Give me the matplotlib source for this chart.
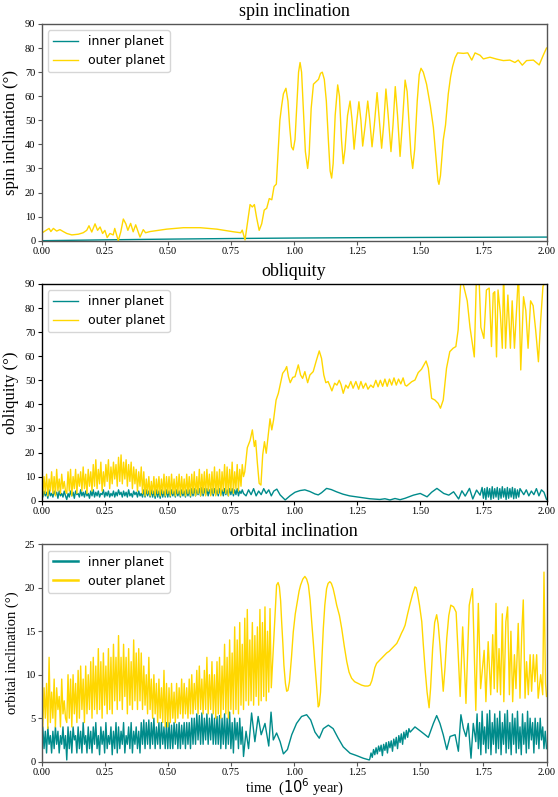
import matplotlib
matplotlib.use('Agg')
import matplotlib.pyplot as plt
import numpy as np

# ---------------- spin inclination ----------------
spin_inner_t = [0.0, 0.25, 0.5, 0.75, 1.0, 1.25, 1.5, 1.75, 2.0]
spin_inner_v = [0.0, 0.35, 0.65, 0.9, 1.1, 1.25, 1.35, 1.42, 1.5]

spin_outer_t = [0.000, 0.020, 0.030, 0.037, 0.047, 0.060, 0.073, 0.086, 0.100, 0.120,
                0.146, 0.165, 0.179, 0.188, 0.199, 0.212, 0.222, 0.232, 0.242, 0.251,
                0.260, 0.271, 0.284, 0.290, 0.304, 0.314, 0.324, 0.334, 0.342, 0.353,
                0.363, 0.373, 0.383, 0.390, 0.403, 0.412, 0.430, 0.496, 0.562, 0.628,
                0.694, 0.760, 0.789, 0.795, 0.806, 0.826, 0.835, 0.843, 0.852, 0.862,
                0.872, 0.882, 0.892, 0.902, 0.912, 0.921, 0.930, 0.936, 0.944, 0.951,
                0.958, 0.968, 0.976, 0.983, 0.990, 0.997, 1.004, 1.011, 1.018, 1.024,
                1.030, 1.037, 1.045, 1.054, 1.060, 1.068, 1.077, 1.087, 1.097, 1.105,
                1.112, 1.120, 1.128, 1.137, 1.143, 1.149, 1.155, 1.163, 1.173, 1.180,
                1.188, 1.195, 1.202, 1.212, 1.222, 1.230, 1.238, 1.247, 1.257, 1.265,
                1.272, 1.282, 1.292, 1.300, 1.309, 1.318, 1.329, 1.338, 1.347, 1.355,
                1.364, 1.373, 1.384, 1.392, 1.401, 1.410, 1.420, 1.430, 1.440, 1.448,
                1.456, 1.463, 1.470, 1.478, 1.488, 1.496, 1.503, 1.512, 1.525, 1.540,
                1.552, 1.562, 1.570, 1.574, 1.580, 1.591, 1.600, 1.611, 1.620, 1.628,
                1.638, 1.648, 1.671, 1.688, 1.704, 1.717, 1.737, 1.750, 1.776, 1.803,
                1.829, 1.855, 1.875, 1.888, 1.904, 1.921, 1.948, 1.971, 1.987, 2.000]
spin_outer_v = [3.1, 4.4, 5.1, 3.8, 5.1, 4.0, 4.6, 3.8, 3.0, 2.4,
                2.7, 3.3, 4.3, 6.2, 3.6, 7.0, 4.3, 5.7, 3.0, 4.3,
                1.3, 3.0, 2.4, 5.1, 0.0, 3.7, 9.0, 7.0, 4.3, 7.2,
                3.7, 6.6, 3.6, 1.5, 4.6, 3.3, 3.8, 4.8, 5.4, 5.4,
                4.8, 3.7, 3.3, 4.4, 0.3, 15.0, 14.0, 15.0, 9.5, 4.3,
                7.0, 12.7, 13.5, 17.5, 17.0, 22.5, 23.5, 35.0, 50.0, 56.0,
                61.0, 63.3, 58.0, 47.0, 39.0, 37.7, 42.0, 56.0, 70.0, 74.0,
                70.0, 55.0, 37.0, 30.0, 36.0, 55.0, 65.0, 66.0, 67.0, 69.5,
                70.0, 67.0, 58.0, 40.0, 29.0, 26.0, 32.0, 52.0, 64.7, 60.0,
                42.0, 32.0, 38.0, 52.0, 58.0, 50.0, 38.0, 48.0, 57.7, 50.0,
                39.3, 48.0, 58.0, 50.0, 39.0, 48.0, 61.5, 50.0, 38.4, 48.0,
                63.0, 52.0, 37.0, 48.0, 64.0, 52.0, 35.0, 50.0, 66.7, 62.0,
                48.0, 36.0, 30.0, 38.0, 58.0, 69.0, 71.6, 70.0, 65.0, 56.0,
                47.0, 35.0, 25.0, 23.4, 27.0, 41.8, 48.0, 61.0, 68.0, 72.3,
                76.0, 78.0, 77.8, 78.0, 75.0, 78.0, 77.0, 75.5, 76.2, 75.4,
                74.8, 75.0, 74.0, 75.0, 72.9, 74.8, 75.0, 73.0, 77.0, 80.0]

# ---------------- obliquity ----------------
# dense part, 0.00 - 0.80, one sample every 0.005
obl_outer_early = [8, 2, 10, 3, 11, 2, 9, 4, 12, 3, 10, 2, 13, 4, 9, 3, 11, 5, 8, 4,
                   3, 12, 4, 13, 2, 10, 5, 13, 3, 11, 6, 12, 4, 14, 5, 11, 3, 13, 6, 12,
                   4, 15, 6, 17, 5, 13, 7, 16, 4, 12, 6, 15, 8, 17, 5, 14, 7, 16, 9, 15,
                   6, 18, 8, 19, 7, 16, 9, 17, 6, 15, 8, 16, 5, 14, 7, 13, 4, 12, 6, 14,
                   3, 12, 2, 9, 3, 10, 2, 8, 3, 10, 2, 9, 3, 10, 2, 9, 3, 11, 2, 10,
                   3, 10, 2, 11, 3, 9, 2, 10, 3, 11, 2, 10, 3, 9, 2, 11, 3, 10, 2, 11,
                   3, 12, 2, 10, 3, 13, 2, 11, 3, 12, 2, 13, 4, 11, 2, 12, 3, 14, 2, 12,
                   3, 13, 2, 12, 4, 15, 3, 14, 2, 13, 4, 16, 3, 12, 5, 15, 4, 13, 6, 15, 10]
obl_outer_t = [0.805, 0.815, 0.826, 0.835, 0.843, 0.848, 0.855, 0.862, 0.869, 0.876,
               0.883, 0.890, 0.900, 0.905, 0.912, 0.919, 0.929, 0.938, 0.945, 0.955,
               0.965, 0.971, 0.978, 0.985, 0.995, 1.004, 1.017, 1.026, 1.034, 1.043,
               1.054, 1.063, 1.076, 1.089, 1.100, 1.109, 1.118, 1.126, 1.135, 1.141,
               1.150, 1.161, 1.170, 1.179, 1.186, 1.195, 1.205, 1.214, 1.225, 1.234,
               1.245, 1.256, 1.265, 1.274, 1.284, 1.293, 1.304, 1.314, 1.324, 1.333,
               1.342, 1.351, 1.360, 1.369, 1.378, 1.387, 1.396, 1.405, 1.414, 1.423,
               1.432, 1.440, 1.446, 1.466, 1.479, 1.492, 1.505, 1.523, 1.532, 1.545,
               1.558, 1.571, 1.580, 1.591, 1.604, 1.617, 1.630, 1.641, 1.650, 1.661,
               1.670, 1.686, 1.697, 1.714, 1.723, 1.732, 1.740, 1.752, 1.762, 1.773,
               1.782, 1.789, 1.795, 1.802, 1.808, 1.817, 1.825, 1.830, 1.838, 1.847,
               1.857, 1.864, 1.873, 1.882, 1.889, 1.898, 1.909, 1.918, 1.927, 1.937,
               1.947, 1.957, 1.968, 1.977, 1.986, 2.000]
obl_outer_v = [12, 22, 25, 29.4, 22.5, 25, 15.5, 7.2, 6.5, 19,
               24.5, 19.7, 29.4, 34, 29.4, 33.5, 41.8, 44.6, 48, 52.9,
               54.3, 55.7, 51.5, 49, 51.2, 51.5, 56.4, 52.2, 50.8, 53.6,
               49, 52.2, 53.6, 58.4, 62.2, 59.1, 52.2, 49, 49.5, 48,
               45.6, 48.8, 48, 50, 48.3, 44.6, 48, 46.7, 49.5, 46.7,
               49.5, 46.3, 49.5, 46.7, 48.8, 46.3, 48, 47, 50, 47.3,
               50, 47.5, 50.5, 47.5, 50.5, 48, 51, 48, 50.5, 48.5,
               51, 48, 47.6, 49.4, 50.1, 53.2, 54.6, 58, 55, 42.5,
               41.8, 40.4, 38.4, 41.8, 55, 61.9, 63.3, 64, 70.9, 92,
               90, 83, 72, 59.7, 95, 95, 72, 67.4, 87.5, 88.3,
               64, 86.1, 86.8, 59.7, 87.5, 78, 63.3, 95, 63.3, 85.4,
               63.3, 83, 63.3, 80.5, 95, 54.3, 84.7, 79, 63.3, 83,
               81, 70.9, 57.7, 75, 89, 92]

obl_inner_early = [3, 1.5, 4, 2, 3.5, 1, 4.5, 2, 3, 1.5, 4, 2.5, 3.5, 1, 4, 2, 3, 1.5, 4, 2,
                   0.5, 3, 1.5, 4, 2, 3.5, 1, 4, 2.5, 3, 1.5, 4.5, 2, 3.5, 1.5, 4, 2, 3, 1, 4,
                   2, 4.5, 1.5, 3.5, 2, 4, 1.5, 3, 2.5, 4.5, 1.5, 3.5, 2, 4, 1.5, 3, 2, 4, 1.5, 3.5,
                   2, 4.5, 2.5, 3.5, 1.5, 4, 2, 3.5, 1.5, 4.5, 2, 3, 1.5, 4, 2.5, 3.5, 1.5, 4, 2, 3,
                   1.5, 4.5, 1.5, 4.5, 2, 4, 1.5, 4.5, 1.5, 4, 1, 4.5, 1.5, 4, 1, 4.5, 1.5, 4, 1.5, 4.5,
                   1.5, 4, 1.5, 4.5, 2, 4, 1.5, 4.5, 2, 4, 1.5, 4.5, 2, 4, 1.5, 4.5, 2, 4.5, 1.5, 5,
                   2, 5, 2, 4.5, 2.5, 5, 2, 5.5, 2, 5, 2.5, 5, 2, 4.5, 2.5, 5, 2, 5, 2.5, 4.5,
                   2, 5, 2.5, 4.5, 2, 5, 2.5, 4.5, 2, 5, 2.5, 5, 2, 4.5, 2.5, 5, 2, 4, 3, 4.5, 3]
obl_inner_t = [0.810, 0.820, 0.830, 0.840, 0.850, 0.860, 0.870, 0.880, 0.890, 0.900,
               0.910, 0.920, 0.932, 0.945, 0.965, 0.985, 1.004, 1.024, 1.043, 1.063,
               1.083, 1.096, 1.109, 1.129, 1.148, 1.168, 1.194, 1.220, 1.260, 1.300,
               1.340, 1.360, 1.380, 1.400, 1.420, 1.440, 1.473, 1.500, 1.527, 1.545,
               1.566, 1.593, 1.613, 1.632, 1.652, 1.665, 1.678, 1.695, 1.708, 1.723,
               1.737]
obl_inner_v = [2, 4.5, 2.5, 5, 2, 4, 2.5, 5, 3, 4.5,
               2, 4, 4.8, 2.4, 0.3, 2.1, 3.5, 4.2, 4.5, 3.8,
               2.8, 2.4, 3.3, 5.1, 4.6, 3.7, 2.7, 2.0, 1.4, 0.8,
               0.5, 0.8, 0.3, 0.9, 0.4, 1.0, 2.3, 3.0, 1.6, 3.5,
               5.1, 3.0, 2.3, 3.7, 0.7, 4.1, 1.9, 5.1, 0.7, 4.4,
               2.3]
# dense part, 1.745 - 1.895
obl_inner_late = [5.5, 1, 5, 0.5, 5.5, 1.5, 5, 0.5, 5.8, 1, 5, 1.5, 5.5, 0.5, 5, 1,
                  5.8, 1.5, 5, 0.5, 5.5, 1, 5, 1.5, 5.5, 0.8, 5, 1, 4.5, 1.5, 5]
obl_inner_end_t = [1.91, 1.92, 1.93, 1.94, 1.95, 1.96, 1.97, 1.98, 1.99, 2.0]
obl_inner_end_v = [2.5, 4.5, 2, 4, 2.5, 5, 2, 4.5, 3.5, 0.5]

# ---------------- orbital inclination ----------------
# dense part, 0.00 - 0.91
orb_outer_early = [9.5, 4, 8.5, 5, 9, 3.8, 12, 4.5, 8, 5, 9.5, 4, 8.5, 6, 7.5, 4, 9.5, 5.5, 7, 5,
                   4.5, 10, 5, 9.5, 4, 10, 5.5, 9, 4.5, 10.5, 5, 11, 6, 9.5, 4.5, 11, 5.5, 10, 6, 11.5,
                   5, 12, 6, 11, 5.5, 13, 6, 11.5, 5, 12.5, 6.5, 11, 5.5, 13, 6, 12, 5.5, 13.5, 7, 12,
                   6, 14.5, 7, 12, 6, 13.5, 7.5, 12, 5.5, 13, 6.5, 11.5, 6, 14, 7, 12.5, 6, 13, 7, 12.5,
                   6, 11, 6.5, 10, 5.5, 12, 6, 9.5, 5, 10, 5.5, 9, 4.5, 9.5, 5, 8.5, 4.5, 10.5, 4, 9,
                   4, 8.5, 4.5, 9, 5, 8, 4.5, 9, 5, 8.5, 5.5, 9.5, 5, 9, 5.5, 8.5, 5, 9.5, 5.5, 10,
                   5.5, 9, 6, 10.5, 5.5, 11, 6, 9.5, 5.5, 10.5, 6, 12, 5.5, 10, 6, 11.5, 5.5, 10, 5, 11.5,
                   5.5, 12, 5, 11, 6, 13.5, 5.5, 12, 5, 14, 6, 12.5, 5.5, 15.5, 6, 14, 5.5, 16, 6.5, 13.5,
                   6, 16.5, 7, 17.5, 6.5, 14, 7, 16, 6.5, 14.5, 7.5, 15.5, 6.5, 17.5, 7, 16, 7.5, 17.8,
                   7, 15, 8, 17.6, 8.5]
orb_outer_t = [0.925, 0.931, 0.937, 0.942, 0.947, 0.951, 0.956, 0.960, 0.966, 0.971,
               0.976, 0.982, 0.990, 0.997, 1.005, 1.013, 1.020, 1.026, 1.035, 1.043,
               1.050, 1.057, 1.064, 1.070, 1.077, 1.083, 1.090, 1.096, 1.100, 1.105,
               1.110, 1.116, 1.122, 1.129, 1.135, 1.142, 1.148, 1.155, 1.162, 1.169,
               1.180, 1.189, 1.199, 1.209, 1.218, 1.228, 1.240, 1.254, 1.268, 1.281,
               1.293, 1.301, 1.308, 1.314, 1.320, 1.327, 1.337, 1.347, 1.357, 1.367,
               1.377, 1.387, 1.397, 1.407, 1.417, 1.426, 1.433, 1.440, 1.450, 1.460,
               1.470, 1.479, 1.484, 1.488, 1.497, 1.506, 1.512, 1.519, 1.527, 1.535,
               1.541, 1.549, 1.557, 1.565, 1.571, 1.578, 1.585, 1.591, 1.598, 1.605,
               1.613, 1.621, 1.632, 1.642, 1.650, 1.658, 1.668, 1.681, 1.694, 1.707,
               1.720, 1.730, 1.739, 1.753, 1.760, 1.769, 1.779, 1.787, 1.793, 1.800,
               1.805, 1.812, 1.818, 1.825, 1.831, 1.839, 1.846, 1.853, 1.859, 1.866,
               1.873, 1.879, 1.888, 1.895, 1.902, 1.908, 1.915, 1.921, 1.928, 1.935,
               1.941, 1.948, 1.954, 1.961, 1.967, 1.977, 1.985, 1.990, 1.996, 2.000]
orb_outer_v = [17.0, 20.3, 20.6, 20.1, 18.5, 16.1, 13.5, 11.1, 9.0, 8.1,
               8.2, 9.2, 12.0, 14.9, 17.0, 18.4, 19.6, 20.3, 21.0, 21.3,
               21.0, 20.3, 18.5, 16.1, 13.5, 11.1, 8.5, 6.3, 6.5, 8.0,
               11.5, 15.3, 18.0, 19.9, 20.5, 20.7, 20.5, 19.9, 19.0, 18.0,
               16.8, 15.3, 13.3, 11.5, 10.3, 9.6, 9.2, 9.0, 8.8, 8.7,
               8.7, 8.8, 9.3, 10.0, 10.8, 11.3, 11.6, 11.9, 12.2, 12.5,
               12.7, 13.0, 13.3, 13.6, 14.2, 14.8, 15.2, 15.7, 17.0, 18.2,
               19.3, 20.1, 20.0, 19.5, 18.0, 16.1, 13.5, 10.7, 8.0, 6.2,
               8.5, 13.0, 16.0, 16.9, 15.8, 13.4, 10.5, 8.1, 10.8, 14.2,
               16.8, 18.0, 17.8, 17.2, 12.5, 7.5, 15.5, 6.7, 18.0, 19.9,
               5.9, 18.2, 8.4, 12.8, 6.9, 13.8, 7.7, 14.6, 8.4, 18.2,
               8.0, 13.0, 7.7, 17.0, 6.9, 16.1, 17.8, 7.7, 15.0, 6.9,
               12.3, 8.4, 15.9, 7.3, 14.8, 18.6, 7.3, 11.5, 7.7, 12.3,
               8.1, 12.3, 9.2, 12.3, 7.3, 10.0, 7.7, 21.8, 9.0, 7.5]

orb_inner_early = [2.5, 4, 1.5, 3.5, 1, 4, 2, 3, 1, 3.5, 1.5, 4, 2, 3.5, 1, 3, 2, 4, 1.5, 3,
                   0.2, 4, 1.5, 3.5, 1, 4, 2.5, 3, 1, 4, 1.5, 3.5, 1, 4.5, 2, 3, 1, 4, 1.5, 3.5,
                   1, 4, 2, 4.5, 1.5, 3, 0.8, 4, 2, 3.5, 1, 4.5, 1.5, 3, 2, 4, 0.8, 3.5, 1.5, 4.5,
                   1, 4, 1.5, 3.5, 2, 4.5, 1, 3, 2, 4, 1.5, 4.5, 1, 3.5, 2, 4, 1.5, 3.5, 1, 4.5,
                   2, 4.8, 1.5, 4.5, 2, 4.8, 1.5, 4.5, 2, 5, 1.5, 4, 2, 4.5, 1.5, 4.5, 2, 4, 1.5, 4.5,
                   1.5, 4.5, 1.5, 4.2, 1.5, 4.5, 2, 4.3, 1.5, 4.5, 1.5, 4.2, 2, 4.5, 1.5, 4.5, 2, 4.5, 1.5, 5,
                   2, 5, 2, 5.5, 2.5, 5.3, 2, 5.6, 2, 5, 2.5, 5.5, 2, 5, 2.5, 5.5, 2, 5, 2, 5.2,
                   2, 5.3, 1.5, 5, 2, 5.5, 1.5, 5, 2, 5.7, 1.5, 4.5, 1, 5, 2.5, 4.5, 1.5, 5, 2, 4, 0.6]
orb_inner_mid_t = [0.810, 0.820, 0.832, 0.845, 0.858, 0.870, 0.885, 0.900, 0.909, 0.918,
                   0.931, 0.945, 0.958, 0.974, 0.991, 1.010, 1.030, 1.050, 1.066, 1.083,
                   1.100, 1.116, 1.136, 1.155, 1.175, 1.195, 1.222, 1.248, 1.274, 1.298]
orb_inner_mid_v = [3.5, 1.5, 5.6, 2.3, 5.2, 3.1, 4.4, 1.8, 5.7, 2.5,
                   3.3, 2.3, 0.9, 1.4, 3.1, 4.4, 5.2, 5.4, 4.8, 3.4,
                   2.7, 3.8, 4.2, 3.8, 2.7, 1.7, 0.97, 0.7, 0.4, 0.2]
# noisy part, 1.30 - 1.46
orb_inner_noisy = [0.3, 1.0, 0.5, 1.4, 0.8, 1.6, 0.9, 1.8, 1.2, 1.9, 0.7, 2.0, 1.3, 2.2, 1.0, 2.3,
                   1.6, 2.4, 1.2, 2.6, 1.8, 2.8, 1.5, 3.0, 2.2, 3.2, 2.0, 3.4, 2.6, 3.6, 2.8, 3.8, 3.4]
orb_inner_late_t = [1.479, 1.506, 1.532, 1.552, 1.565, 1.578, 1.591, 1.605, 1.618, 1.638,
                    1.651, 1.661, 1.671, 1.681, 1.690, 1.701, 1.710, 1.720]
orb_inner_late_v = [4.0, 3.4, 2.8, 4.4, 5.3, 4.4, 3.1, 1.4, 2.9, 3.1,
                    1.2, 5.4, 3.8, 2.9, 4.4, 0.4, 4.4, 2.3]
# dense part, 1.725 - 2.00
orb_inner_end = [5.5, 1.5, 4.5, 0.8, 5.8, 2, 4, 1, 5.5, 1.5, 5.9, 0.8, 4.5, 2, 5.5, 1,
                 5, 1.5, 5.8, 0.8, 4.5, 2, 5.5, 1, 5.9, 1.5, 4.5, 0.8, 5.5, 2, 5, 1,
                 5.8, 1.5, 4, 0.8, 5.5, 2, 4.5, 1, 5.8, 1.5, 5, 2.5, 4.5, 1, 5, 2,
                 4.5, 1.5, 5, 2.5, 4, 1.5, 3.5, 1.5]


def block(t0, t1, vals):
    return np.linspace(t0, t1, len(vals)), np.asarray(vals, dtype=float)


def join(*parts):
    t = np.concatenate([np.asarray(p[0], dtype=float) for p in parts])
    v = np.concatenate([np.asarray(p[1], dtype=float) for p in parts])
    return t, v


inner_c = 'darkcyan'
outer_c = 'gold'

plt.rcParams['font.family'] = 'serif'
plt.rcParams['font.serif'] = ['Liberation Serif', 'DejaVu Serif']
plt.rcParams['mathtext.fontset'] = 'dejavusans'

fig = plt.figure(figsize=(5.58, 7.97), dpi=100)
ax1 = fig.add_axes([0.0744, 0.698, 0.905, 0.2719])
ax2 = fig.add_axes([0.0744, 0.3718, 0.905, 0.2719])
ax3 = fig.add_axes([0.0744, 0.0443, 0.905, 0.2728])

# spin inclination
ax1.plot(spin_inner_t, spin_inner_v, color=inner_c, lw=1, label='inner planet')
ax1.plot(spin_outer_t, spin_outer_v, color=outer_c, lw=1, label='outer planet')
ax1.set_ylim(0, 90)
ax1.set_yticks(range(0, 91, 10))
ax1.set_title('spin inclination', fontsize=13)
ax1.set_ylabel('spin inclination (°)', fontsize=12)

# obliquity
t, v = join(block(0.0, 0.8, obl_inner_early), (obl_inner_t, obl_inner_v),
            block(1.745, 1.895, obl_inner_late), (obl_inner_end_t, obl_inner_end_v))
ax2.plot(t, v, color=inner_c, lw=1, label='inner planet')
t, v = join(block(0.0, 0.8, obl_outer_early), (obl_outer_t, obl_outer_v))
ax2.plot(t, v, color=outer_c, lw=1, label='outer planet')
ax2.set_ylim(0, 90)
ax2.set_yticks(range(0, 91, 10))
ax2.set_title('obliquity', fontsize=13)
ax2.set_ylabel('obliquity (°)', fontsize=12)

# orbital inclination
t, v = join(block(0.0, 0.8, orb_inner_early), (orb_inner_mid_t, orb_inner_mid_v),
            block(1.30, 1.46, orb_inner_noisy), (orb_inner_late_t, orb_inner_late_v),
            block(1.725, 2.0, orb_inner_end))
ax3.plot(t, v, color=inner_c, lw=1, label='inner planet')
t, v = join(block(0.0, 0.91, orb_outer_early), (orb_outer_t, orb_outer_v))
ax3.plot(t, v, color=outer_c, lw=1, label='outer planet')
ax3.set_ylim(0, 25)
ax3.set_yticks(range(0, 26, 5))
ax3.set_title('orbital inclination', fontsize=13)
ax3.set_ylabel('orbital inclination (°)', fontsize=10.5)
ax3.set_xlabel('time  ($10^6$ year)', fontsize=10.5)
ax3.xaxis.set_label_coords(0.5, -0.07)

for ax, sc in [(ax1, '#555555'), (ax2, 'black'), (ax3, '#555555')]:
    ax.set_xlim(0, 2)
    ax.set_xticks([0, 0.25, 0.5, 0.75, 1.0, 1.25, 1.5, 1.75, 2.0])
    ax.set_xticklabels(['0.00', '0.25', '0.50', '0.75', '1.00', '1.25', '1.50', '1.75', '2.00'])
    ax.tick_params(labelsize=7.5, length=3, width=0.8, pad=1.5, color=sc)
    for s in ax.spines.values():
        s.set_color(sc)
        s.set_linewidth(1.0)
    leg = ax.legend(loc='upper left', prop={'family': 'DejaVu Sans', 'size': 9})
    if ax is ax3:
        for ln in leg.get_lines():
            ln.set_linewidth(1.8)

fig.savefig('out.png', dpi=100)
